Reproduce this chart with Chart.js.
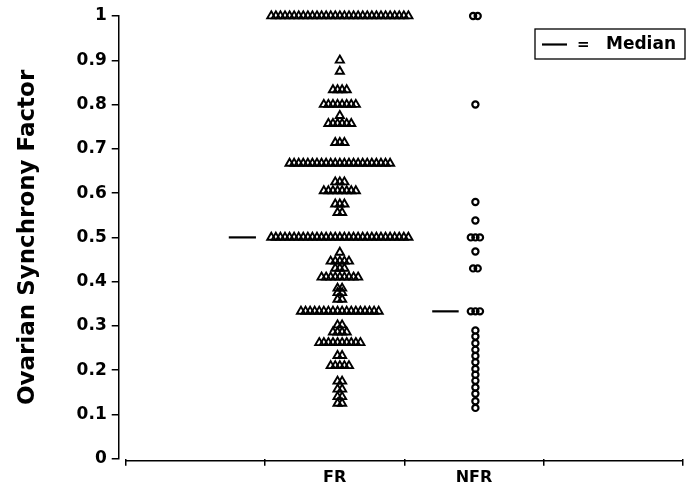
<!DOCTYPE html>
<html><head><meta charset="utf-8">
<script src="https://cdn.jsdelivr.net/npm/chart.js@4.4.1/dist/chart.umd.min.js"></script>
<style>html,body{margin:0;padding:0;background:#fff;}#wrap{width:693px;height:489px;position:relative;}</style>
</head><body><div id="wrap"><canvas id="c"></canvas></div>
<script>
// ---- data ----
const categories = ['FR', 'NFR'];
const frLevels = [1.0, 0.9, 0.875, 0.833, 0.8, 0.775, 0.757, 0.714, 0.667, 0.625, 0.605, 0.575, 0.556, 0.5,
                  0.466, 0.446, 0.43, 0.41, 0.385, 0.375, 0.36, 0.333, 0.302, 0.286, 0.262, 0.233, 0.21, 0.175, 0.157, 0.14, 0.125];
const frCounts = [31, 1, 1, 4, 8, 1, 6, 3, 23, 3, 8, 3, 2, 31,
                  1, 5, 3, 9, 2, 2, 2, 18, 2, 4, 10, 2, 5, 2, 2, 2, 2];
const nfrLevels = [1.0, 0.8, 0.58, 0.538, 0.5, 0.468, 0.43, 0.333,
                   0.29, 0.276, 0.261, 0.246, 0.232, 0.218, 0.203, 0.19, 0.176, 0.161, 0.147, 0.13, 0.115];
const nfrCounts = [2, 1, 1, 1, 3, 1, 2, 3,
                   1, 1, 1, 1, 1, 1, 1, 1, 1, 1, 1, 1, 1];
const medians = [0.5, 0.333];
const yTickValues = [0, 0.1, 0.2, 0.3, 0.4, 0.5, 0.6, 0.7, 0.8, 0.9, 1];
const xTickValues = [0, 1, 2, 3, 4];
const xLabelValues = [1.5, 2.5];

// ---- layout constants ----
const CENTER = [1.537, 2.51];
const DX = 0.0328;
const MEDIAN_X = [[0.74, 0.935], [2.2, 2.39]];
const FONT = "'DejaVu Sans', 'Liberation Sans', sans-serif";

function swarm(levels, counts, cx) {
  const pts = [];
  levels.forEach((v, k) => {
    const n = counts[k];
    for (let i = 0; i < n; i++) pts.push({ x: cx + (i - (n - 1) / 2) * DX, y: v });
  });
  return pts;
}

const axisLine = {
  id: 'axisLine',
  afterDraw(chart) {
    const { ctx, scales: { x }, chartArea } = chart;
    const yb = chartArea.bottom + 2;
    ctx.save();
    ctx.strokeStyle = '#000';
    ctx.lineWidth = 1.5;
    ctx.beginPath();
    ctx.moveTo(x.getPixelForValue(xTickValues[0]), yb);
    ctx.lineTo(x.getPixelForValue(xTickValues[xTickValues.length - 1]), yb);
    ctx.stroke();
    // legend box
    ctx.lineWidth = 1.3;
    ctx.strokeRect(535, 29, 150, 30);
    ctx.lineWidth = 2.2;
    ctx.beginPath(); ctx.moveTo(542, 44.5); ctx.lineTo(567, 44.5); ctx.stroke();
    ctx.fillStyle = '#000';
    ctx.font = "bold 15px " + FONT;
    ctx.textBaseline = 'middle';
    ctx.fillText('=', 577, 45);
    ctx.font = "bold 17px " + FONT;
    ctx.fillText('Median', 606, 45);
    ctx.restore();
  }
};

const datasets = [
  {
    label: categories[0],
    data: swarm(frLevels, frCounts, CENTER[0]),
    pointStyle: 'triangle', pointRadius: 4.7, pointHoverRadius: 4.7,
    pointBorderWidth: 1.9, pointBorderColor: '#000', pointBackgroundColor: 'rgba(0,0,0,0)',
    clip: false
  },
  {
    label: categories[1],
    data: swarm(nfrLevels, nfrCounts, CENTER[1]),
    pointStyle: 'circle', pointRadius: 3.1, pointHoverRadius: 3.1,
    pointBorderWidth: 2.2, pointBorderColor: '#000', pointBackgroundColor: 'rgba(0,0,0,0)',
    clip: false
  }
];
medians.forEach((m, i) => {
  datasets.push({
    label: 'Median ' + categories[i], type: 'line', showLine: true,
    data: [{ x: MEDIAN_X[i][0], y: m }, { x: MEDIAN_X[i][1], y: m }],
    borderColor: '#000', borderWidth: 2.2, pointRadius: 0, fill: false, clip: false
  });
});

new Chart(document.getElementById('c'), {
  type: 'scatter',
  data: { datasets },
  options: {
    responsive: true, maintainAspectRatio: false, animation: false,
    devicePixelRatio: 1,
    layout: { padding: { top: 16, right: 10, left: 0, bottom: 0 } },
    plugins: { legend: { display: false }, tooltip: { enabled: false } },
    scales: {
      x: {
        type: 'linear', min: -0.05, max: 4,
        afterBuildTicks: (s) => { s.ticks = xTickValues.concat(xLabelValues).sort((a, b) => a - b).map(v => ({ value: v })); },
        ticks: {
          autoSkip: false, maxRotation: 0, color: '#000', padding: 2,
          font: { family: FONT, size: 16, weight: 'bold' },
          callback: (v) => { const i = xLabelValues.indexOf(v); return i >= 0 ? categories[i] : ''; }
        },
        grid: {
          drawOnChartArea: false, drawTicks: true, tickLength: 7, lineWidth: 1.5,
          tickColor: (ctx) => (ctx.tick && xLabelValues.includes(ctx.tick.value)) ? 'rgba(0,0,0,0)' : '#000',
          offset: false
        },
        border: { display: false }
      },
      y: {
        min: 0, max: 1,
        afterBuildTicks: (s) => { s.ticks = yTickValues.map(v => ({ value: v })); },
        ticks: {
          color: '#000', padding: 5,
          font: { family: FONT, size: 17, weight: 'bold' },
          callback: (v) => (v === 0 || v === 1) ? String(v) : v.toFixed(1)
        },
        grid: { drawOnChartArea: false, drawTicks: true, tickLength: 7, lineWidth: 1.5, color: '#000' },
        border: { display: true, color: '#000', width: 1.5 },
        title: {
          display: true, text: 'Ovarian Synchrony Factor', color: '#000',
          font: { family: FONT, size: 23, weight: 'bold' },
          padding: { top: 14, bottom: 30 }
        }
      }
    }
  },
  plugins: [axisLine]
});
</script>
</body></html>
